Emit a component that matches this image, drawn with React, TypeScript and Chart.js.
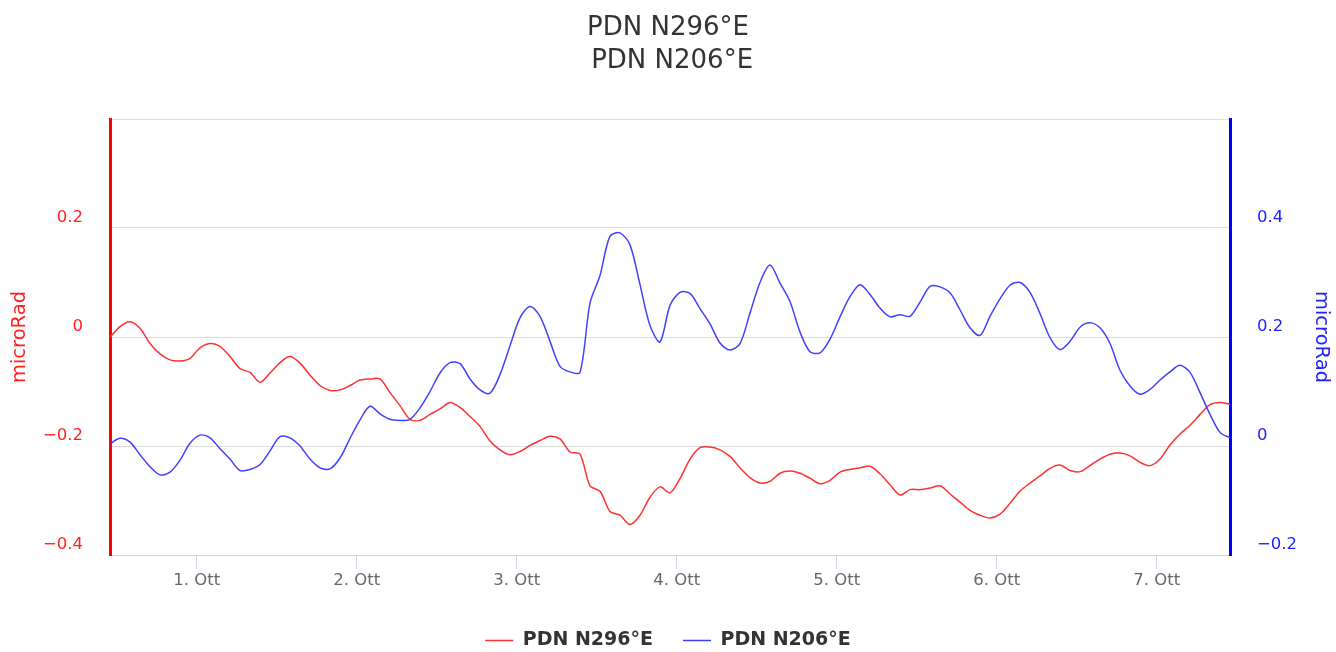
import React, { useEffect, useRef } from 'react';
import { Chart, registerables } from 'chart.js';

Chart.register(...registerables);

const FONT = "'DejaVu Sans', 'Lucida Grande', sans-serif";

const TITLE_LINES = ['PDN N296°E', ' PDN N206°E'];
const SERIES_NAMES = ['PDN N296°E', 'PDN N206°E'];
const AXIS_TITLE = 'microRad';

// time in hours relative to 1 Oct 00:00
const START_HOUR = -13;
const STEP_HOURS = 1.5;
const X_MIN = -13;
const X_MAX = 155;
const DAY_TICKS = [0, 24, 48, 72, 96, 120, 144];
const DAY_LABELS = ['1. Ott', '2. Ott', '3. Ott', '4. Ott', '5. Ott', '6. Ott', '7. Ott'];

const LEFT_TICKS = [-0.4, -0.2, 0, 0.2, 0.4];
const LEFT_LABELS = ['\u22120.4', '\u22120.2', '0', '0.2', ''];
const RIGHT_TICKS = [-0.2, 0, 0.2, 0.4, 0.6];
const RIGHT_LABELS = ['\u22120.2', '0', '0.2', '0.4', ''];

const RED_VALUES = [
  0.000, 0.019, 0.028, 0.016, -0.012, -0.031, -0.042, -0.044, -0.039, -0.020,
  -0.012, -0.017, -0.036, -0.058, -0.065, -0.083, -0.066, -0.047, -0.036, -0.048,
  -0.070, -0.089, -0.098, -0.097, -0.089, -0.079, -0.077, -0.077, -0.102, -0.126,
  -0.151, -0.153, -0.142, -0.132, -0.120, -0.129, -0.146, -0.164, -0.191, -0.207,
  -0.216, -0.210, -0.199, -0.190, -0.182, -0.187, -0.211, -0.215, -0.273, -0.283,
  -0.320, -0.327, -0.344, -0.327, -0.294, -0.275, -0.286, -0.260, -0.224, -0.203,
  -0.202, -0.207, -0.219, -0.240, -0.258, -0.268, -0.265, -0.250, -0.246, -0.250,
  -0.259, -0.269, -0.263, -0.248, -0.243, -0.240, -0.237, -0.251, -0.271, -0.290,
  -0.280, -0.280, -0.277, -0.273, -0.288, -0.303, -0.318, -0.327, -0.332, -0.325,
  -0.305, -0.283, -0.268, -0.255, -0.241, -0.235, -0.245, -0.247, -0.236, -0.224,
  -0.215, -0.213, -0.218, -0.230, -0.236, -0.224, -0.198, -0.178, -0.162, -0.142,
  -0.124, -0.120, -0.123,
];

const BLUE_VALUES = [
  0.004, 0.014, 0.007, -0.016, -0.038, -0.053, -0.048, -0.026, 0.005, 0.020,
  0.015, -0.005, -0.024, -0.045, -0.043, -0.034, -0.009, 0.017, 0.015, 0.000,
  -0.024, -0.040, -0.042, -0.022, 0.014, 0.048, 0.073, 0.059, 0.049, 0.047,
  0.049, 0.070, 0.100, 0.134, 0.153, 0.151, 0.123, 0.103, 0.097, 0.131,
  0.184, 0.235, 0.256, 0.238, 0.192, 0.146, 0.136, 0.135, 0.262, 0.313,
  0.385, 0.391, 0.369, 0.296, 0.221, 0.191, 0.258, 0.282, 0.280, 0.252,
  0.224, 0.189, 0.176, 0.188, 0.244, 0.300, 0.332, 0.299, 0.265, 0.209,
  0.173, 0.171, 0.196, 0.237, 0.274, 0.296, 0.278, 0.253, 0.237, 0.241,
  0.238, 0.264, 0.293, 0.292, 0.281, 0.250, 0.217, 0.203, 0.238, 0.270,
  0.295, 0.300, 0.282, 0.243, 0.199, 0.177, 0.192, 0.218, 0.226, 0.217,
  0.188, 0.139, 0.110, 0.095, 0.104, 0.121, 0.136, 0.148, 0.135, 0.098,
  0.058, 0.025, 0.015,
];

const RED_LINE = '#ff3030';
const BLUE_LINE = '#4040ff';
const RED_TEXT = '#ff2222';
const BLUE_TEXT = '#2222ff';

export default function App() {
  const ref = useRef<HTMLCanvasElement>(null);

  useEffect(() => {
    const canvas = ref.current;
    if (!canvas) return;
    const redData = RED_VALUES.map((y, i) => ({ x: START_HOUR + i * STEP_HOURS, y }));
    const blueData = BLUE_VALUES.map((y, i) => ({ x: START_HOUR + i * STEP_HOURS, y }));

    const chart = new Chart(canvas, {
      type: 'line',
      data: {
        datasets: [
          {
            label: SERIES_NAMES[0],
            data: redData,
            borderColor: RED_LINE,
            backgroundColor: RED_LINE,
            borderWidth: 1.5,
            pointRadius: 0,
            tension: 0.3,
            fill: false,
            xAxisID: 'x',
            yAxisID: 'yL',
            order: 1,
          },
          {
            label: SERIES_NAMES[1],
            data: blueData,
            borderColor: BLUE_LINE,
            backgroundColor: BLUE_LINE,
            borderWidth: 1.5,
            pointRadius: 0,
            tension: 0.3,
            fill: false,
            xAxisID: 'x',
            yAxisID: 'yR',
            order: 0,
          },
        ],
      },
      options: {
        animation: false,
        responsive: false,
        devicePixelRatio: 1,
        layout: { padding: 0 },
        plugins: {
          title: {
            display: true,
            text: TITLE_LINES,
            color: '#333333',
            font: { family: FONT, size: 26, weight: 'normal', lineHeight: 1.3 },
            padding: { top: 11, bottom: 40.4 },
          },
          legend: {
            position: 'bottom',
            labels: {
              usePointStyle: true,
              pointStyle: 'line',
              pointStyleWidth: 28,
              color: '#333333',
              font: { family: FONT, size: 19, weight: 'bold' },
              padding: 30,
              sort: (a: any, b: any) => a.datasetIndex - b.datasetIndex,
            },
          },
          tooltip: { enabled: false },
        },
        scales: {
          x: {
            type: 'linear',
            min: X_MIN,
            max: X_MAX,
            afterBuildTicks: (s: any) => {
              s.ticks = DAY_TICKS.map((v) => ({ value: v }));
            },
            afterFit: (s: any) => {
              s.height = 46;
            },
            ticks: {
              autoSkip: false,
              maxRotation: 0,
              color: '#666666',
              font: { family: FONT, size: 16.5 },
              padding: 2,
              callback: (v: any) => {
                const i = DAY_TICKS.indexOf(Number(v));
                return i >= 0 ? DAY_LABELS[i] : '';
              },
            },
            grid: { drawOnChartArea: false, drawTicks: true, tickLength: 14, color: '#ccd6eb' },
            border: { color: '#ccd6eb', width: 1 },
          },
          yL: {
            type: 'linear',
            position: 'left',
            min: LEFT_TICKS[0],
            max: LEFT_TICKS[LEFT_TICKS.length - 1],
            afterBuildTicks: (s: any) => {
              s.ticks = LEFT_TICKS.map((v) => ({ value: v }));
            },
            afterFit: (s: any) => {
              s.width = 110;
            },
            ticks: {
              color: RED_TEXT,
              font: { family: FONT, size: 16.5 },
              padding: 27,
              labelOffset: -10,
              callback: (v: any) => {
                const i = LEFT_TICKS.findIndex((t) => Math.abs(t - Number(v)) < 1e-9);
                return i >= 0 ? LEFT_LABELS[i] : '';
              },
            },
            grid: { color: '#dddddd', drawTicks: false },
            border: { color: '#ff0000', width: 3 },
            title: {
              display: true,
              text: AXIS_TITLE,
              color: RED_TEXT,
              font: { family: FONT, size: 19.5 },
              padding: { top: 8, bottom: 0 },
            },
          },
          yR: {
            type: 'linear',
            position: 'right',
            min: RIGHT_TICKS[0],
            max: RIGHT_TICKS[RIGHT_TICKS.length - 1],
            afterBuildTicks: (s: any) => {
              s.ticks = RIGHT_TICKS.map((v) => ({ value: v }));
            },
            afterFit: (s: any) => {
              s.width = 106;
            },
            ticks: {
              color: BLUE_TEXT,
              font: { family: FONT, size: 16.5 },
              padding: 27,
              labelOffset: -10,
              callback: (v: any) => {
                const i = RIGHT_TICKS.findIndex((t) => Math.abs(t - Number(v)) < 1e-9);
                return i >= 0 ? RIGHT_LABELS[i] : '';
              },
            },
            grid: { drawOnChartArea: false, drawTicks: false },
            border: { color: '#0000ff', width: 3 },
            title: {
              display: true,
              text: AXIS_TITLE,
              color: BLUE_TEXT,
              font: { family: FONT, size: 19.5 },
              padding: { top: 3, bottom: 0 },
            },
          },
        },
      },
    } as any);

    return () => chart.destroy();
  }, []);

  return (
    <div style={{ position: 'fixed', left: 0, top: 0, width: 1336, height: 660, background: '#ffffff' }}>
      <canvas ref={ref} width={1336} height={660} style={{ display: 'block' }} />
    </div>
  );
}
